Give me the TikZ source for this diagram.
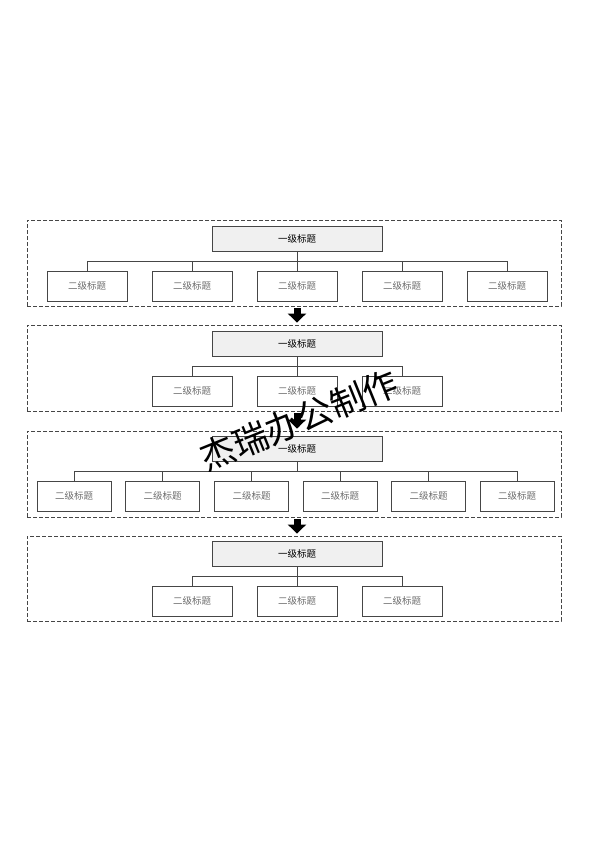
\documentclass[tikz,border=0pt]{standalone}
\usepackage{fontspec}
\usepackage{tikz}
\usetikzlibrary{arrows.meta, positioning, calc}
\newfontfamily\cjk{Noto Sans CJK SC}
\definecolor{linegray}{RGB}{70, 70, 70}
\definecolor{topfill}{RGB}{240, 240, 240}
\definecolor{subtext}{RGB}{110, 110, 110}
\tikzset{
    groupbox/.style={
        draw=linegray,
        dash pattern=on 4pt off 2pt,
        line width=0.9pt,
        minimum width=534pt,
        minimum height=#1,
        inner sep=0pt,
    },
    topbox/.style={
        draw=linegray,
        fill=topfill,
        line width=0.9pt,
        minimum width=170pt,
        minimum height=25pt,
        inner sep=0pt,
        font=\cjk\fontsize{9.5}{10}\selectfont,
        text=black,
    },
    subbox/.style={
        draw=linegray,
        fill=white,
        line width=0.9pt,
        minimum width=#1,
        minimum height=30pt,
        inner sep=0pt,
        font=\cjk\fontsize{9.5}{10}\selectfont,
        text=subtext,
    },
    subbox/.default=80pt,
    conn/.style={
        draw=linegray,
        line width=0.9pt,
    },
    bigarrow/.style={
        line width=7pt,
        -{Triangle[width=18pt, length=9pt]},
        shorten <=2pt,
        shorten >=2pt,
    },
    watermark/.style={
        font=\cjk\fontsize{35}{37}\selectfont,
        text=black,
        rotate=22,
    },
}
\begin{document}
\begin{tikzpicture}[x=1pt, y=-1pt]
\useasboundingbox (0,0) rectangle (594,841);

% ===== 第一组 =====
\node[groupbox=86pt] (g1) at (294, 263) {};
\node[topbox] (t1) at (297, 238.5) {一级标题};
\node[subbox] (s11) at (87, 286) {二级标题};
\node[subbox] (s12) at (192, 286) {二级标题};
\node[subbox] (s13) at (297, 286) {二级标题};
\node[subbox] (s14) at (402, 286) {二级标题};
\node[subbox] (s15) at (507, 286) {二级标题};
\draw[conn] (t1.south) -- ++(0,10) -| (s11.north);
\draw[conn] (t1.south) -- ++(0,10) -| (s12.north);
\draw[conn] (t1.south) -- (s13.north);
\draw[conn] (t1.south) -- ++(0,10) -| (s14.north);
\draw[conn] (t1.south) -- ++(0,10) -| (s15.north);

% ===== 第二组 =====
\node[groupbox=86pt] (g2) at (294, 368) {};
\node[topbox] (t2) at (297, 343.5) {一级标题};
\node[subbox] (s21) at (192, 391) {二级标题};
\node[subbox] (s22) at (297, 391) {二级标题};
\node[subbox] (s23) at (402, 391) {二级标题};
\draw[conn] (t2.south) -- ++(0,10) -| (s21.north);
\draw[conn] (t2.south) -- (s22.north);
\draw[conn] (t2.south) -- ++(0,10) -| (s23.north);

% ===== 第三组 =====
\node[groupbox=86pt] (g3) at (294, 474) {};
\node[topbox] (t3) at (297, 448.5) {一级标题};
\node[subbox=74pt] (s31) at (74, 496) {二级标题};
\node[subbox=74pt] (s32) at (162.5, 496) {二级标题};
\node[subbox=74pt] (s33) at (251.5, 496) {二级标题};
\node[subbox=74pt] (s34) at (340, 496) {二级标题};
\node[subbox=74pt] (s35) at (428.5, 496) {二级标题};
\node[subbox=74pt] (s36) at (517, 496) {二级标题};
\draw[conn] (t3.south) -- ++(0,10) -| (s31.north);
\draw[conn] (t3.south) -- ++(0,10) -| (s32.north);
\draw[conn] (t3.south) -- ++(0,10) -| (s33.north);
\draw[conn] (t3.south) -- ++(0,10) -| (s34.north);
\draw[conn] (t3.south) -- ++(0,10) -| (s35.north);
\draw[conn] (t3.south) -- ++(0,10) -| (s36.north);

% ===== 第四组 =====
\node[groupbox=85pt] (g4) at (294, 578.5) {};
\node[topbox] (t4) at (297, 553.5) {一级标题};
\node[subbox] (s41) at (192, 601) {二级标题};
\node[subbox] (s42) at (297, 601) {二级标题};
\node[subbox] (s43) at (402, 601) {二级标题};
\draw[conn] (t4.south) -- ++(0,10) -| (s41.north);
\draw[conn] (t4.south) -- (s42.north);
\draw[conn] (t4.south) -- ++(0,10) -| (s43.north);

% ===== 箭头 =====
\draw[bigarrow] (g1.south -| t1.south) -- (g2.north -| t2.north);
\draw[bigarrow] (g2.south -| t2.south) -- (g3.north -| t3.north);
\draw[bigarrow] (g3.south -| t3.south) -- (g4.north -| t4.north);

% ===== 水印 =====
\node[watermark] (mark) at (299, 420) {杰瑞办公制作};

\end{tikzpicture}
\end{document}
